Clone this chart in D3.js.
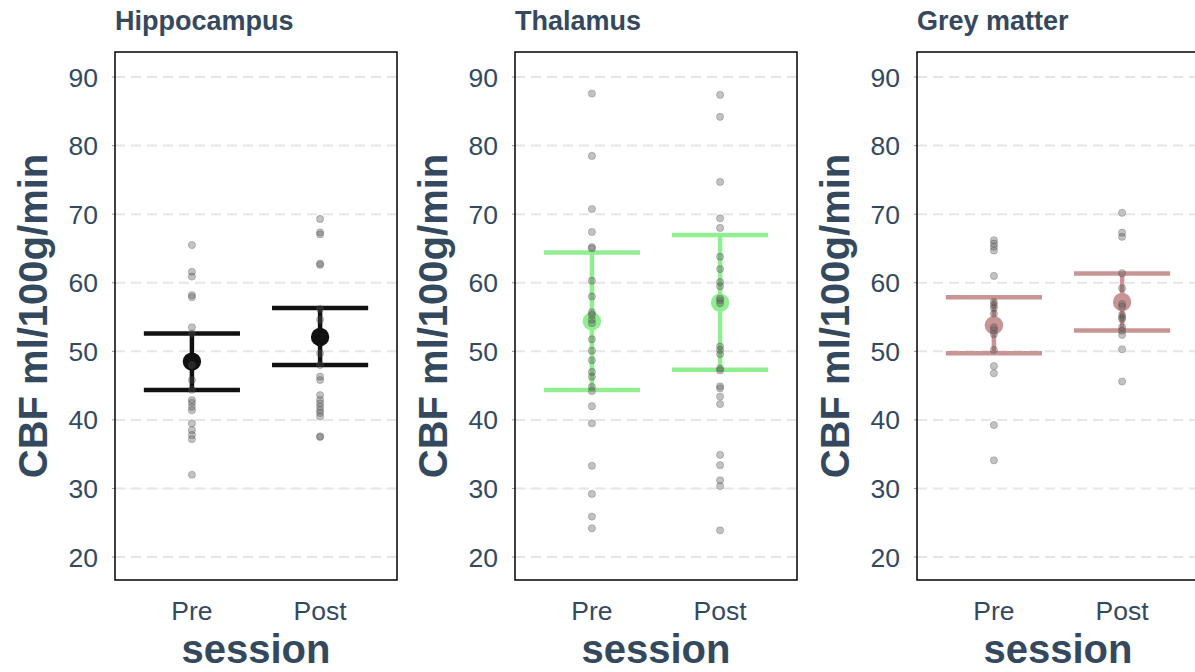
<!DOCTYPE html>
<meta charset="utf-8">
<style>
body { margin: 0; background: #fff; }
svg text { font-family: "Liberation Sans", Arial, sans-serif; fill: #34495e; }
.panelTitle { font-size: 27px; font-weight: bold; }
.axisTitle { font-size: 40px; font-weight: bold; }
.tickLabel { font-size: 26.5px; }
</style>
<svg width="1195" height="672"></svg>
<script src="https://d3js.org/d3.v7.min.js"></script>
<script>

// panels and sessions
var regions = ["Hippocampus", "Thalamus", "Grey matter"];
var sessions = ["Pre", "Post"];
var yTicks = [20, 30, 40, 50, 60, 70, 80, 90];

// individual subject values
var hippoPre = [65.5, 61.6, 60.9, 58.2, 57.9, 53.5, 52.6, 48.0, 45.8, 44.4, 42.9, 42.5, 41.9, 41.4, 39.5, 38.5, 37.8, 37.2, 32.0];
var hippoPost = [69.3, 67.35, 67.05, 62.8, 62.6, 56.2, 54.6, 49.7, 48.0, 46.3, 45.8, 43.6, 42.9, 42.4, 41.9, 41.4, 41.0, 40.5, 37.6, 37.5];
var thalPre = [87.6, 78.5, 70.75, 67.4, 65.2, 65.0, 60.3, 58.0, 55.7, 55.3, 54.6, 54.1, 51.75, 50.1, 48.7, 47.0, 46.3, 44.8, 44.2, 42.0, 39.5, 33.3, 29.2, 25.9, 24.2];
var thalPost = [87.4, 84.2, 74.7, 69.4, 68.0, 63.8, 62.0, 60.1, 59.5, 57.7, 57.4, 57.0, 50.7, 50.2, 49.6, 47.5, 47.2, 44.9, 44.6, 43.4, 42.3, 34.9, 33.4, 31.2, 30.35, 23.9];
var greyPre = [66.2, 65.7, 65.25, 64.7, 61.0, 57.2, 56.75, 56.3, 55.5, 53.5, 53.1, 52.5, 50.2, 47.85, 46.8, 39.25, 34.1];
var greyPost = [70.2, 67.3, 66.7, 61.4, 59.2, 56.9, 56.5, 55.3, 54.95, 54.7, 53.5, 53.0, 52.4, 50.3, 45.6];

// summary: mean and error bar limits per region [Pre, Post]
var means = [[48.5, 52.1], [54.4, 57.1], [53.8, 57.2]];
var barLow = [[44.35, 48.0], [44.35, 47.3], [49.7, 53.05]];
var barHigh = [[52.6, 56.3], [64.4, 66.96], [57.9, 61.35]];

var colors = ["#111111", "#90ee90", "#c99494"];

var points = [[hippoPre, hippoPost], [thalPre, thalPost], [greyPre, greyPost]];

var svg = d3.select("svg");
var panelLeft = [115, 515, 917],
    panelTop = 52,
    pw = 282,
    ph = 528;

var x = d3.scalePoint().domain(sessions).range([0, pw]).padding(0.6);
var y = d3.scaleLinear().domain([16.65, 93.65]).range([ph, 0]);
var halfBar = x.step() * 0.375;

regions.forEach(function(region, i) {
  var g = svg.append("g").attr("transform", "translate(" + panelLeft[i] + "," + panelTop + ")");

  // grid
  g.selectAll(".grid")
    .data(yTicks)
    .enter().append("line")
      .attr("x1", 0).attr("x2", pw)
      .attr("y1", d => y(d)).attr("y2", d => y(d))
      .attr("stroke", "#e6e6e6")
      .attr("stroke-width", 2)
      .attr("stroke-dasharray", "10,6");

  // y axis ticks and labels
  g.selectAll(".tk")
    .data(yTicks)
    .enter().append("line")
      .attr("x1", -3).attr("x2", 0)
      .attr("y1", d => y(d)).attr("y2", d => y(d))
      .attr("stroke", "#999");
  g.selectAll(".tickLabel")
    .data(yTicks)
    .enter().append("text")
      .attr("class", "tickLabel")
      .attr("x", -17)
      .attr("y", d => y(d))
      .attr("dy", "0.36em")
      .attr("text-anchor", "end")
      .text(d => d);

  // x labels
  g.selectAll(".xLabel")
    .data(sessions)
    .enter().append("text")
      .attr("class", "tickLabel")
      .attr("x", d => x(d))
      .attr("y", 620 - panelTop)
      .attr("text-anchor", "middle")
      .text(d => d);

  // error bars
  var c = colors[i];
  sessions.forEach(function(s, j) {
    var cx = x(s);
    g.append("line")
      .attr("x1", cx).attr("x2", cx)
      .attr("y1", y(barLow[i][j])).attr("y2", y(barHigh[i][j]))
      .attr("stroke", c).attr("stroke-width", 4.5);
    [barLow[i][j], barHigh[i][j]].forEach(function(v) {
      g.append("line")
        .attr("x1", cx - halfBar).attr("x2", cx + halfBar)
        .attr("y1", y(v)).attr("y2", y(v))
        .attr("stroke", c).attr("stroke-width", 4.5);
    });
    g.append("circle")
      .attr("cx", cx).attr("cy", y(means[i][j]))
      .attr("r", 9.2)
      .attr("fill", c);
  });

  // subject points
  sessions.forEach(function(s, j) {
    g.selectAll(".pt" + j)
      .data(points[i][j])
      .enter().append("circle")
        .attr("cx", x(s))
        .attr("cy", d => y(d))
        .attr("r", 3.6)
        .attr("fill", "#555")
        .attr("fill-opacity", 0.36)
        .attr("stroke", "#444")
        .attr("stroke-opacity", 0.35)
        .attr("stroke-width", 0.8);
  });

  // frame
  g.append("rect")
    .attr("width", pw).attr("height", ph)
    .attr("fill", "none")
    .attr("stroke", "#000")
    .attr("stroke-width", 1.5);

  // titles
  g.append("text")
    .attr("class", "panelTitle")
    .attr("x", 0)
    .attr("y", 30 - panelTop)
    .text(region);

  g.append("text")
    .attr("class", "axisTitle")
    .attr("transform", "translate(" + (-68) + "," + (ph / 2) + ") rotate(-90)")
    .attr("text-anchor", "middle")
    .text("CBF ml/100g/min");

  g.append("text")
    .attr("class", "axisTitle")
    .attr("x", pw / 2)
    .attr("y", 663 - panelTop)
    .attr("text-anchor", "middle")
    .text("session");
});

</script>
